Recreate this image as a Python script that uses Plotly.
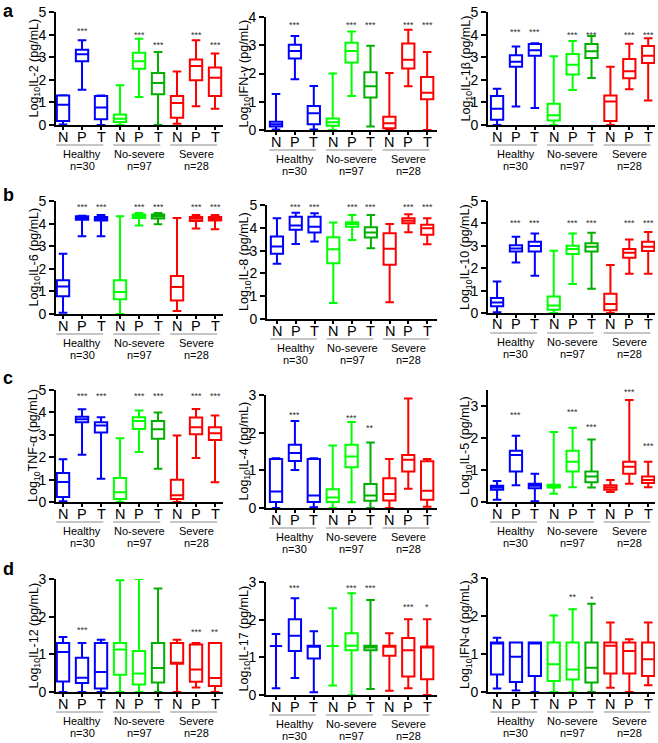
import plotly.graph_objects as go

W, H = 658, 743

tick_text = ["N", "P", "T", "N", "P", "T", "N", "P", "T"]
group_names = ["Healthy", "No-severe", "Severe"]
group_ns = ["n=30", "n=97", "n=28"]
box_colors = ["#0000FF", "#0000FF", "#0000FF",
              "#00FF00", "#00FF00", "#00B000",
              "#FF0000", "#FF0000", "#FF0000"]
panel_letters = ["a", "b", "c", "d"]

# ---- a1: IL-2 ----
il2_lo  = [0.02, 1.56, 0.00, 0.00, 1.24, 0.00, 0.06, 0.83, 0.72]
il2_q1  = [0.18, 2.82, 0.25, 0.13, 2.49, 1.36, 0.32, 1.98, 1.28]
il2_med = [0.90, 3.13, 0.77, 0.28, 2.82, 1.86, 0.97, 2.61, 2.09]
il2_q3  = [1.30, 3.33, 1.28, 0.47, 3.20, 2.30, 1.28, 2.90, 2.54]
il2_hi  = [1.32, 3.75, 1.30, 1.76, 3.82, 3.23, 2.37, 3.75, 3.16]
il2_star = ["", "***", "", "", "***", "***", "", "***", "***"]
il2_star_y = [0, 4.23, 0, 0, 4.08, 3.64, 0, 4.08, 3.64]

# ---- a2: IFN-γ ----
ifng_lo  = [0.02, 1.80, 0.02, 0.00, 1.20, 0.12, 0.00, 1.55, 0.00]
ifng_q1  = [0.12, 2.53, 0.20, 0.15, 2.39, 1.15, 0.06, 2.18, 1.09]
ifng_med = [0.20, 2.80, 0.59, 0.27, 2.80, 1.55, 0.24, 2.49, 1.32]
ifng_q3  = [0.29, 3.02, 0.85, 0.41, 3.09, 2.04, 0.47, 3.06, 1.88]
ifng_hi  = [1.27, 3.33, 1.56, 2.00, 3.49, 2.98, 2.02, 3.55, 2.76]
ifng_star = ["", "***", "", "", "***", "***", "", "***", "***"]
ifng_star_y = [0, 3.8, 0, 0, 3.8, 3.8, 0, 3.8, 3.8]

# ---- a3: IL-1β ----
il1b_lo  = [0.00, 0.82, 0.75, 0.00, 1.55, 2.08, 0.00, 1.58, 1.08]
il1b_q1  = [0.23, 2.58, 3.06, 0.20, 2.23, 2.96, 0.18, 2.07, 2.74]
il1b_med = [0.72, 2.80, 3.31, 0.43, 2.67, 3.26, 1.04, 2.38, 3.06]
il1b_q3  = [1.28, 3.09, 3.58, 0.94, 3.14, 3.58, 1.30, 2.92, 3.50]
il1b_hi  = [1.60, 3.47, 3.62, 3.04, 3.72, 3.94, 2.58, 3.60, 3.84]
il1b_star = ["", "***", "***", "", "***", "***", "", "***", "***"]
il1b_star_y = [0, 4.19, 4.19, 0, 4.09, 4.09, 0, 4.06, 4.06]

# ---- b1: IL-6 ----
il6_lo  = [0.06, 3.44, 3.44, 0.00, 3.92, 3.97, 0.13, 3.78, 3.75]
il6_q1  = [0.78, 4.17, 4.14, 0.65, 4.25, 4.23, 0.60, 4.12, 4.14]
il6_med = [1.22, 4.25, 4.23, 0.97, 4.34, 4.32, 1.19, 4.22, 4.22]
il6_q3  = [1.49, 4.32, 4.29, 1.49, 4.40, 4.40, 1.68, 4.29, 4.29]
il6_hi  = [2.67, 4.35, 4.38, 4.32, 4.47, 4.47, 4.25, 4.38, 4.38]
il6_star = ["", "***", "***", "", "***", "***", "", "***", "***"]
il6_star_y = [0, 4.81, 4.81, 0, 4.81, 4.81, 0, 4.81, 4.81]

# ---- b2: IL-8 ----
il8_lo  = [2.42, 3.29, 3.40, 0.70, 3.47, 3.10, 0.73, 3.80, 3.28]
il8_q1  = [2.86, 3.91, 3.79, 2.45, 4.05, 3.57, 2.38, 4.20, 3.69]
il8_med = [3.18, 4.10, 4.05, 3.06, 4.17, 3.79, 3.08, 4.31, 3.98]
il8_q3  = [3.62, 4.49, 4.49, 3.59, 4.24, 4.02, 3.76, 4.42, 4.13]
il8_hi  = [4.42, 4.66, 4.64, 4.23, 4.56, 4.56, 4.17, 4.59, 4.42]
il8_star = ["", "***", "***", "", "***", "***", "", "***", "***"]
il8_star_y = [0, 5.0, 5.0, 0, 5.0, 5.0, 0, 5.0, 5.0]

# ---- b3: IL-10 ----
il10_lo  = [0.03, 2.26, 1.66, 0.00, 1.30, 1.08, 0.00, 1.75, 1.75]
il10_q1  = [0.30, 2.74, 2.74, 0.15, 2.63, 2.74, 0.12, 2.47, 2.77]
il10_med = [0.47, 2.88, 2.99, 0.33, 2.86, 2.96, 0.40, 2.69, 2.96]
il10_q3  = [0.67, 3.03, 3.18, 0.74, 3.00, 3.11, 0.86, 2.86, 3.18]
il10_hi  = [1.41, 3.40, 3.55, 2.78, 3.55, 3.58, 2.14, 3.28, 3.62]
il10_star = ["", "***", "***", "", "***", "***", "", "***", "***"]
il10_star_y = [0, 4.11, 4.11, 0, 4.11, 4.11, 0, 4.11, 4.11]

# ---- c1: TNF-α ----
tnf_lo  = [0.03, 2.11, 1.04, 0.00, 2.23, 1.48, 0.00, 1.96, 0.88]
tnf_q1  = [0.22, 3.56, 3.10, 0.13, 3.26, 2.82, 0.13, 3.03, 2.77]
tnf_med = [0.89, 3.69, 3.41, 0.43, 3.62, 3.25, 0.30, 3.34, 3.07]
tnf_q3  = [1.29, 3.81, 3.56, 1.07, 3.78, 3.62, 0.99, 3.77, 3.34]
tnf_hi  = [1.91, 4.14, 3.78, 2.85, 4.08, 3.99, 2.97, 4.15, 3.86]
tnf_star = ["", "***", "***", "", "***", "***", "", "***", "***"]
tnf_star_y = [0, 4.81, 4.81, 0, 4.81, 4.81, 0, 4.81, 4.81]

# ---- c2: IL-4 ----
il4_lo  = [0.00, 1.01, 0.02, 0.00, 0.15, 0.00, 0.00, 0.51, 0.03]
il4_q1  = [0.16, 1.25, 0.16, 0.16, 1.08, 0.19, 0.20, 0.97, 0.22]
il4_med = [0.44, 1.46, 0.33, 0.28, 1.37, 0.33, 0.37, 1.28, 0.46]
il4_q3  = [1.30, 1.68, 1.30, 0.50, 1.68, 0.64, 0.79, 1.41, 1.24]
il4_hi  = [1.32, 2.31, 1.32, 1.66, 2.28, 1.74, 1.30, 2.91, 1.30]
il4_star = ["", "***", "", "", "***", "**", "", "***", ""]
il4_star_y = [0, 2.53, 0, 0, 2.44, 2.18, 0, 3.11, 0]

# ---- c3: IL-5 ----
il5_lo  = [0.07, 0.52, 0.02, 0.26, 0.46, 0.45, 0.31, 0.57, 0.46]
il5_q1  = [0.38, 0.95, 0.43, 0.45, 0.95, 0.62, 0.38, 0.88, 0.59]
il5_med = [0.45, 1.47, 0.51, 0.51, 1.26, 0.80, 0.45, 1.10, 0.69]
il5_q3  = [0.51, 1.60, 0.57, 0.54, 1.60, 0.95, 0.52, 1.26, 0.80]
il5_hi  = [0.66, 2.07, 0.88, 2.19, 2.32, 1.95, 0.69, 3.19, 1.26]
il5_star = ["", "***", "", "", "***", "***", "", "***", "***"]
il5_star_y = [0, 2.79, 0, 0, 2.89, 2.42, 0, 3.50, 1.81]

# ---- d1: IL-12 ----
il12_lo  = [0.00, 0.00, 0.00, 0.00, 0.00, 0.00, 0.00, 0.12, 0.00]
il12_q1  = [0.28, 0.24, 0.09, 0.46, 0.20, 0.25, 0.75, 0.27, 0.16]
il12_med = [1.06, 0.38, 0.53, 1.13, 0.49, 0.64, 0.75, 0.60, 0.37]
il12_q3  = [1.30, 0.91, 1.30, 1.30, 1.09, 1.30, 1.30, 1.26, 1.30]
il12_hi  = [1.46, 1.30, 1.39, 2.97, 3.00, 2.75, 1.39, 1.30, 1.30]
il12_star = ["", "***", "", "", "***", "***", "", "***", "**"]
il12_star_y = [0, 1.70, 0, 0, 3.21, 3.21, 0, 1.64, 1.64]

# ---- d2: IL-17 ----
il17_lo  = [0.18, 0.45, 0.07, 0.25, 0.00, 0.16, 0.11, 0.18, 0.00]
il17_q1  = [1.30, 1.17, 0.97, 1.30, 1.19, 1.19, 1.04, 0.49, 0.42]
il17_med = [1.30, 1.57, 1.28, 1.30, 1.31, 1.26, 1.29, 1.19, 1.27]
il17_q3  = [1.30, 2.01, 1.31, 1.30, 1.64, 1.31, 1.31, 1.51, 1.29]
il17_hi  = [1.62, 2.57, 1.69, 2.30, 2.70, 2.52, 1.64, 2.01, 2.01]
il17_star = ["", "***", "", "", "***", "***", "", "***", "*"]
il17_star_y = [0, 2.90, 0, 0, 2.90, 2.90, 0, 2.38, 2.38]

# ---- d3: IFN-α ----
ifna_lo  = [0.09, 0.04, 0.00, 0.00, 0.00, 0.00, 0.11, 0.00, 0.18]
ifna_q1  = [0.46, 0.26, 0.42, 0.29, 0.33, 0.25, 0.49, 0.49, 0.42]
ifna_med = [1.28, 0.93, 1.28, 0.73, 0.59, 0.64, 1.22, 1.08, 0.86]
ifna_q3  = [1.30, 1.30, 1.30, 1.30, 1.30, 1.30, 1.30, 1.30, 1.30]
ifna_hi  = [1.43, 1.30, 1.30, 2.01, 2.18, 2.32, 1.83, 1.39, 1.83]
ifna_star = ["", "", "", "", "**", "*", "", "", ""]
ifna_star_y = [0, 0, 0, 0, 2.54, 2.50, 0, 0, 0]

panels = [
    ("IL-2", il2_lo, il2_q1, il2_med, il2_q3, il2_hi, il2_star, il2_star_y),
    ("IFN-γ", ifng_lo, ifng_q1, ifng_med, ifng_q3, ifng_hi, ifng_star, ifng_star_y),
    ("IL-1β", il1b_lo, il1b_q1, il1b_med, il1b_q3, il1b_hi, il1b_star, il1b_star_y),
    ("IL-6", il6_lo, il6_q1, il6_med, il6_q3, il6_hi, il6_star, il6_star_y),
    ("IL-8", il8_lo, il8_q1, il8_med, il8_q3, il8_hi, il8_star, il8_star_y),
    ("IL-10", il10_lo, il10_q1, il10_med, il10_q3, il10_hi, il10_star, il10_star_y),
    ("TNF-α", tnf_lo, tnf_q1, tnf_med, tnf_q3, tnf_hi, tnf_star, tnf_star_y),
    ("IL-4", il4_lo, il4_q1, il4_med, il4_q3, il4_hi, il4_star, il4_star_y),
    ("IL-5", il5_lo, il5_q1, il5_med, il5_q3, il5_hi, il5_star, il5_star_y),
    ("IL-12", il12_lo, il12_q1, il12_med, il12_q3, il12_hi, il12_star, il12_star_y),
    ("IL-17", il17_lo, il17_q1, il17_med, il17_q3, il17_hi, il17_star, il17_star_y),
    ("IFN-α", ifna_lo, ifna_q1, ifna_med, ifna_q3, ifna_hi, ifna_star, ifna_star_y),
]

# layout geometry in pixels: (axis_x, right_x, top_y, zero_y, ymax, xmin, xmax)
geom = [
    (56, 223, 12, 125, 5, -0.37, 8.42),
    (266, 437, 17, 130, 4, -0.53, 8.52),
    (488, 655, 12, 125, 5, -0.48, 8.36),
    (56, 223, 201, 314, 5, -0.37, 8.42),
    (267, 437, 205, 319, 5, -0.53, 8.52),
    (488, 655, 201, 313, 5, -0.48, 8.36),
    (56, 223, 390, 502, 5, -0.37, 8.42),
    (266, 437, 395, 508, 3, -0.53, 8.52),
    (488, 655, 390, 502, 3.5, -0.48, 8.36),
    (56, 223, 579, 692, 3, -0.37, 8.42),
    (266, 437, 582, 695, 3, -0.53, 8.52),
    (488, 655, 578, 692, 3, -0.48, 8.36),
]
letter_pos = [(8, 11), (8, 195), (8, 378), (8, 569)]

FONT = "Arial, Liberation Sans, sans-serif"

def px(x):
    return x / W

def py(y):
    return 1 - y / H

fig = go.Figure()
layout = dict(width=W, height=H, margin=dict(l=0, r=0, t=0, b=0, pad=0),
              paper_bgcolor="white", plot_bgcolor="white", showlegend=False,
              font=dict(family=FONT, color="black"))
annotations = []
shapes = []

def note(**kw):
    d = dict(showarrow=False, xanchor="center", yanchor="middle")
    d.update(kw)
    annotations.append(d)

for i, (name, lo, q1, med, q3, hi, star, star_y) in enumerate(panels):
    k = "" if i == 0 else str(i + 1)
    ax_x, right_x, top_y, zero_y, ymax, xmin, xmax = geom[i]
    xr, yr = "x" + k, "y" + k
    for j in range(9):
        fig.add_trace(go.Box(
            x=[j], q1=[q1[j]], median=[med[j]], q3=[q3[j]],
            lowerfence=[lo[j]], upperfence=[hi[j]],
            xaxis=xr, yaxis=yr, width=0.65, whiskerwidth=0.7,
            line=dict(color=box_colors[j], width=2),
            fillcolor="rgba(0,0,0,0)", boxpoints=False,
            showlegend=False, hoverinfo="skip"))
        if star[j]:
            note(x=j, y=star_y[j], xref=xr, yref=yr, text=star[j], yshift=-2,
                 font=dict(size=9, color="#333333"))
        # x tick label (N / P / T)
        note(x=j, y=py(zero_y + 11.5), xref=xr, yref="paper", text=tick_text[j],
             font=dict(size=14.5, family=FONT))
    layout["xaxis" + k] = dict(
        domain=[px(ax_x), px(right_x)], anchor=yr, range=[xmin, xmax],
        tickvals=list(range(9)), showticklabels=False,
        showline=True, linecolor="black", linewidth=2,
        ticks="outside", ticklen=3, tickwidth=1.5, tickcolor="black",
        showgrid=False, zeroline=False, fixedrange=True, automargin=False)
    tv = [v for v in range(0, 6) if v <= ymax]
    layout["yaxis" + k] = dict(
        domain=[py(zero_y), py(top_y)], anchor=xr, range=[0, ymax],
        tickvals=tv, showline=True, linecolor="black", linewidth=2,
        ticks="outside", ticklen=5, tickwidth=2, tickcolor="black",
        tickfont=dict(size=14, family=FONT), showgrid=False, zeroline=False,
        fixedrange=True, automargin=False)
    # y-axis title
    note(x=px(ax_x - 22), y=py((top_y + zero_y) / 2), xref="paper", yref="paper",
         text="Log<sub>10</sub>" + name + " (pg/mL)", textangle=-90,
         font=dict(size=12.5, family=FONT))
    # group underlines and labels
    for g in range(3):
        n0 = 3 * g
        shapes.append(dict(type="line", xref=xr, yref="paper",
                           x0=n0 - 0.36, x1=n0 + 2 + 0.12,
                           y0=py(zero_y + 20), y1=py(zero_y + 20),
                           line=dict(color="#8c8c8c", width=1)))
        note(x=n0 + 1, y=py(zero_y + 29), xref=xr, yref="paper",
             text=group_names[g], font=dict(size=11, family=FONT))
        note(x=n0 + 1, y=py(zero_y + 41), xref=xr, yref="paper",
             text=group_ns[g], font=dict(size=11, family=FONT))

for letter, (lx, ly) in zip(panel_letters, letter_pos):
    note(x=px(lx), y=py(ly), xref="paper", yref="paper",
         text="<b>" + letter + "</b>", font=dict(size=18, family=FONT))

layout["annotations"] = annotations
layout["shapes"] = shapes
fig.update_layout(**layout)
fig.write_html("out.html", config={"displayModeBar": False},
               post_script="document.body.style.margin='0';document.body.style.padding='0';")
